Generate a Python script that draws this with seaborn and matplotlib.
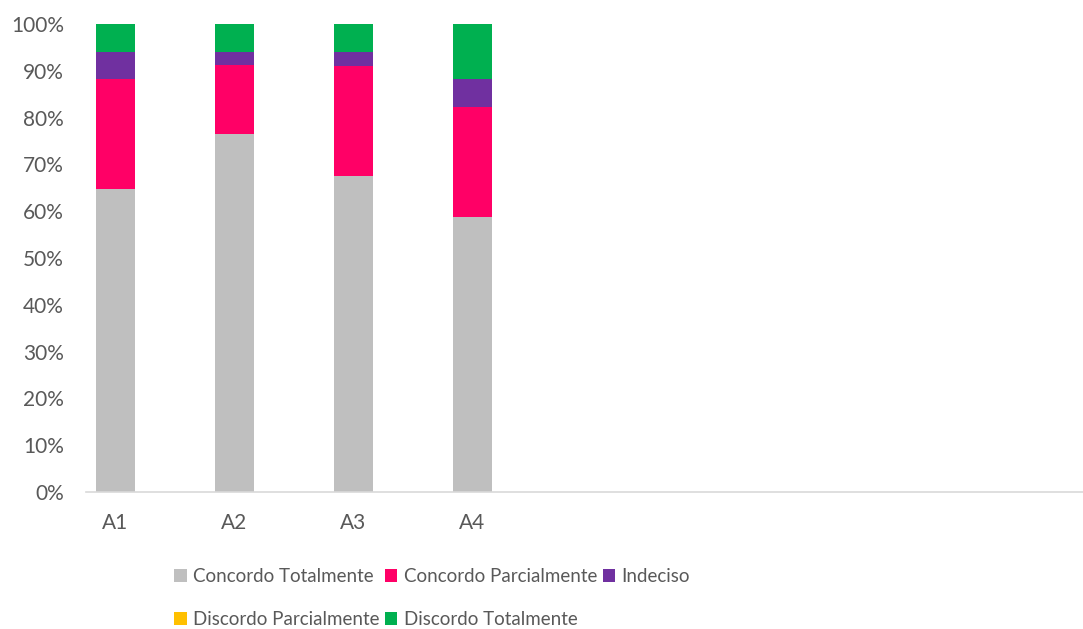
import matplotlib
matplotlib.use("Agg")
import matplotlib.pyplot as plt
from matplotlib.patches import Patch
from matplotlib.ticker import PercentFormatter
import numpy as np
import pandas as pd
import seaborn as sns

categories = ["A1", "A2", "A3", "A4"]
series = ["Concordo Totalmente", "Concordo Parcialmente", "Indeciso",
          "Discordo Parcialmente", "Discordo Totalmente"]
concordo_total = [64.7, 76.5, 67.6, 58.8]
concordo_parcial = [23.5, 14.7, 23.5, 23.5]
indeciso = [5.9, 2.9, 2.9, 5.9]
discordo_parcial = [0.0, 0.0, 0.0, 0.0]
discordo_total = [5.9, 5.9, 5.9, 11.8]

COLORS = ["#BFBFBF", "#FF0066", "#7030A0", "#FFC000", "#00B050"]
TEXT = "#595959"

sns.set_theme(style="white")
plt.rcParams["font.family"] = ["Lato", "DejaVu Sans"]

vals = np.array([concordo_total, concordo_parcial, indeciso,
                 discordo_parcial, discordo_total]) / 100.0
cum = np.cumsum(vals, axis=0)

fig = plt.figure(figsize=(10.83, 6.29), dpi=100)
ax = fig.add_axes([86 / 1083, 1 - 492 / 629, 1 - 86 / 1083, (492 - 24) / 629])

# stacked bars: draw cumulative totals from the top layer down
for i in range(len(series) - 1, -1, -1):
    df = pd.DataFrame({"cat": categories, "val": cum[i]})
    sns.barplot(data=df, x="cat", y="val", order=categories, color=COLORS[i],
                saturation=1, width=0.328, linewidth=0, ax=ax, errorbar=None)

ax.set_xlim(-0.248, 8.13)
ax.set_ylim(0, 1)
ax.set_yticks(np.arange(0, 1.01, 0.1))
ax.yaxis.set_major_formatter(PercentFormatter(1.0, decimals=0))
ax.set_xlabel("")
ax.set_ylabel("")
for s in ["top", "right", "left"]:
    ax.spines[s].set_visible(False)
ax.spines["bottom"].set_color("#D9D9D9")
ax.spines["bottom"].set_linewidth(1.2)
ax.tick_params(axis="both", length=0, labelsize=15, labelcolor=TEXT)
ax.tick_params(axis="y", pad=16)
ax.tick_params(axis="x", pad=15)

handles = [Patch(facecolor=c, edgecolor="none", label=s) for c, s in zip(COLORS, series)]
order = [0, 3, 1, 4, 2]
leg = fig.legend([handles[k] for k in order], [series[k] for k in order],
                 ncol=3, loc="upper left", bbox_to_anchor=(0.161, 1 - 568 / 629),
                 frameon=False, fontsize=13.5, handlelength=0.65, handleheight=0.65,
                 handletextpad=0.35, columnspacing=0.3, labelspacing=1.4,
                 borderpad=0, borderaxespad=0)
for t in leg.get_texts():
    t.set_color(TEXT)

fig.savefig("out.png", dpi=100)
